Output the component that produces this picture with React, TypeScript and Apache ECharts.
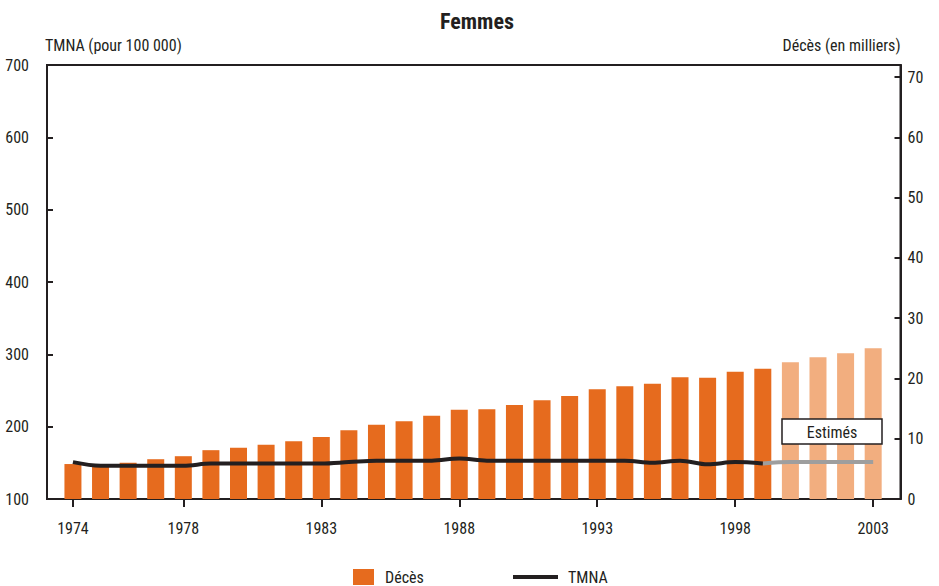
import React, { useEffect, useRef } from "react";
import * as echarts from "echarts";

const years = [
  1974, 1975, 1976, 1977, 1978, 1979, 1980, 1981, 1982, 1983,
  1984, 1985, 1986, 1987, 1988, 1989, 1990, 1991, 1992, 1993,
  1994, 1995, 1996, 1997, 1998, 1999, 2000, 2001, 2002, 2003,
];
// Décès (en milliers)
const deaths = [
  5.8, 5.6, 6.0, 6.6, 7.1, 8.1, 8.5, 9.0, 9.6, 10.3,
  11.4, 12.3, 12.9, 13.8, 14.8, 14.9, 15.6, 16.4, 17.1, 18.2,
  18.7, 19.1, 20.2, 20.1, 21.1, 21.6, 22.7, 23.5, 24.2, 25.0,
];
const firstEstimatedYear = 2000;
// TMNA (pour 100 000), observed 1974-1999
const tmnaYears = years.filter((y) => y <= 1999);
const tmna = [
  151, 146, 146, 146, 146, 149, 149, 149, 149, 149,
  151, 153, 153, 153, 156, 153, 153, 153, 153, 153,
  153, 150, 153, 148, 151, 149,
];
// TMNA estimated 1999-2003
const tmnaEstYears = [1999, 2000, 2001, 2002, 2003];
const tmnaEst = [149, 151, 151, 151, 151];
const xTickYears = [1974, 1978, 1983, 1988, 1993, 1998, 2003];
const rightTicks = [0, 10, 20, 30, 40, 50, 60, 70];

const FONT = "'Roboto Condensed', 'Liberation Sans Narrow', sans-serif";
const INK = "#231F20";
const ORANGE = "#E66B1E";
const LIGHT_ORANGE = "#F2AE7F";
const GREY = "#9E9E9E";

export default function App() {
  const ref = useRef<HTMLDivElement>(null);
  useEffect(() => {
    if (!ref.current) return;
    const chart = echarts.init(ref.current, null, { renderer: "svg" });
    const labelStyle = { color: INK, fontSize: 16, fontFamily: FONT };
    chart.setOption({
      animation: false,
      backgroundColor: "#fff",
      textStyle: { fontFamily: FONT },
      title: {
        text: "Femmes",
        left: 435,
        top: 5,
        textStyle: { fontSize: 22, fontWeight: "bold", color: INK, fontFamily: FONT },
      },
      legend: [
        {
          data: [{ name: "Décès", icon: "rect" }],
          left: 348,
          top: 564,
          itemWidth: 21,
          itemHeight: 16,
          textStyle: { ...labelStyle, padding: [0, 0, 0, 6] },
        },
        {
          data: [{ name: "TMNA", icon: "rect" }],
          left: 508,
          top: 564,
          itemWidth: 45,
          itemHeight: 4,
          textStyle: { ...labelStyle, padding: [0, 0, 0, 5] },
        },
      ],
      grid: {
        left: 47,
        right: 38.5,
        top: 65,
        bottom: 87,
        show: true,
        borderColor: INK,
        borderWidth: 2,
        backgroundColor: "transparent",
      },
      xAxis: {
        type: "value",
        min: 1973.06,
        max: 2003.99,
        splitLine: { show: false },
        axisLine: { show: true, lineStyle: { color: INK, width: 2 } },
        axisTick: {
          show: true,
          customValues: xTickYears,
          length: 8,
          lineStyle: { color: INK, width: 2 },
        },
        axisLabel: {
          customValues: xTickYears,
          formatter: (v: number) => String(v),
          margin: 21,
          ...labelStyle,
        },
      },
      yAxis: [
        {
          type: "value",
          min: 100,
          max: 700,
          interval: 100,
          name: "TMNA (pour 100 000)",
          nameLocation: "end",
          nameGap: 20,
          nameTextStyle: { ...labelStyle, align: "left", verticalAlign: "middle", padding: [0, 0, 0, -2] },
          splitLine: { show: false },
          axisLine: { show: true, lineStyle: { color: INK, width: 2 } },
          axisTick: { show: true, inside: true, length: 6, lineStyle: { color: INK, width: 2 } },
          axisLabel: { margin: 18, ...labelStyle },
        },
        {
          type: "value",
          min: 0,
          max: 72,
          interval: 10,
          position: "right",
          name: "Décès (en milliers)",
          nameLocation: "end",
          nameGap: 20,
          nameTextStyle: { ...labelStyle, align: "right", verticalAlign: "middle" },
          splitLine: { show: false },
          axisLine: { show: true, lineStyle: { color: INK, width: 2 } },
          axisTick: {
            show: true,
            inside: true,
            length: 6,
            customValues: rightTicks,
            lineStyle: { color: INK, width: 2 },
          },
          axisLabel: { margin: 7, customValues: rightTicks, ...labelStyle },
        },
      ],
      series: [
        {
          name: "Décès",
          type: "bar",
          yAxisIndex: 1,
          barWidth: 17,
          itemStyle: { color: ORANGE },
          data: years.map((y, i) => ({
            value: [y, deaths[i]],
            itemStyle: { color: y >= firstEstimatedYear ? LIGHT_ORANGE : ORANGE },
          })),
          z: 2,
        },
        {
          name: "TMNA",
          type: "line",
          yAxisIndex: 0,
          showSymbol: false,
          symbol: "none",
          smooth: 0.35,
          lineStyle: { color: INK, width: 4 },
          itemStyle: { color: INK },
          data: tmnaYears.map((y, i) => [y, tmna[i]]),
          z: 4,
        },
        {
          name: "TMNA estimé",
          type: "line",
          yAxisIndex: 0,
          showSymbol: false,
          symbol: "none",
          smooth: 0.35,
          lineStyle: { color: GREY, width: 4 },
          itemStyle: { color: GREY },
          data: tmnaEstYears.map((y, i) => [y, tmnaEst[i]]),
          z: 3,
        },
      ],
      graphic: [
        {
          type: "rect",
          z: 100,
          zlevel: 0,
          shape: { x: 782, y: 419, width: 100, height: 25 },
          style: { fill: "#fff", stroke: INK, lineWidth: 1.5 },
        },
        {
          type: "text",
          z: 101,
          zlevel: 0,
          x: 832,
          y: 432,
          style: {
            text: "Estimés",
            fill: INK,
            fontSize: 16,
            fontFamily: FONT,
            align: "center",
            verticalAlign: "middle",
          },
        },
      ],
    });
    return () => chart.dispose();
  }, []);
  return (
    <div
      ref={ref}
      style={{ position: "fixed", left: 0, top: 0, width: 939, height: 586 }}
    />
  );
}
